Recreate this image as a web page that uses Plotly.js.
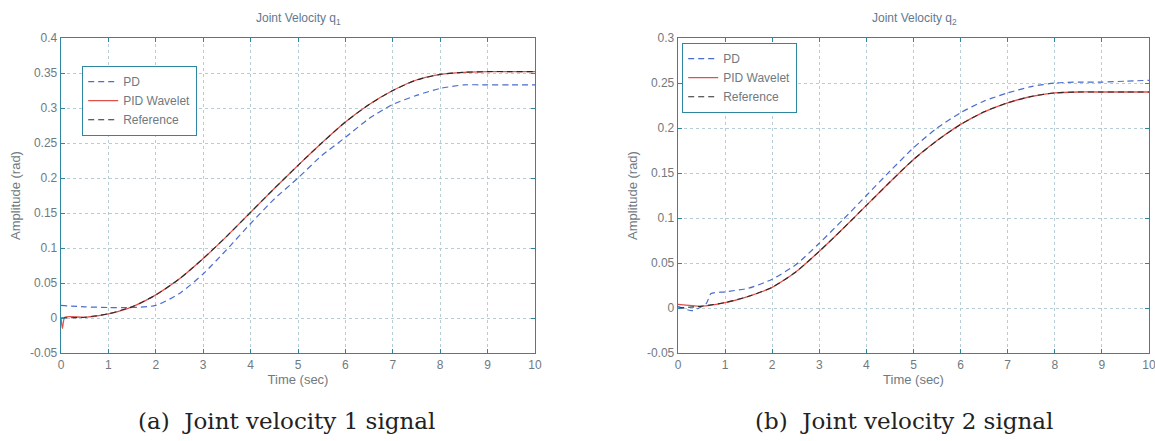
<!DOCTYPE html>
<html>
<head>
<meta charset="utf-8">
<script src="https://cdn.plot.ly/plotly-3.0.1.min.js"></script>
<style>html,body{margin:0;padding:0;background:#fff;}#chart{width:1155px;height:441px;}</style>
</head>
<body>
<div id="chart"></div>
<script>
// ---- Data ----
const time1 = [0, 0.5, 1, 1.5, 2, 2.5, 3, 3.5, 4, 4.5, 5, 5.5, 6, 6.5, 7, 7.5, 8, 8.5, 9, 9.5, 10];
const pd1 = [0.018, 0.016, 0.015, 0.015, 0.018, 0.035, 0.063, 0.098, 0.135, 0.17, 0.2, 0.232, 0.258, 0.285, 0.305, 0.318, 0.328, 0.333, 0.333, 0.333, 0.333];
const time1w = [0, 0.03, 0.08, 0.5, 1, 1.5, 2, 2.5, 3, 3.5, 4, 4.5, 5, 5.5, 6, 6.5, 7, 7.5, 8, 8.5, 9, 9.5, 10];
const pidw1 = [0, -0.015, 0.001, 0.001, 0.006, 0.016, 0.033, 0.056, 0.085, 0.117, 0.151, 0.185, 0.218, 0.25, 0.28, 0.305, 0.325, 0.34, 0.348, 0.351, 0.352, 0.352, 0.352];
const ref1 = [0, 0.001, 0.006, 0.016, 0.033, 0.056, 0.085, 0.117, 0.151, 0.185, 0.218, 0.25, 0.28, 0.305, 0.325, 0.34, 0.348, 0.351, 0.352, 0.352, 0.352];

const time2pd = [0, 0.3, 0.6, 0.7, 1, 1.5, 2, 2.5, 3, 3.5, 4, 4.5, 5, 5.5, 6, 6.5, 7, 7.5, 8, 8.5, 9, 9.5, 10];
const pd2 = [0.002, -0.003, 0.005, 0.016, 0.018, 0.022, 0.032, 0.048, 0.072, 0.098, 0.125, 0.152, 0.178, 0.2, 0.217, 0.23, 0.239, 0.246, 0.25, 0.251, 0.251, 0.252, 0.253];
const time2 = [0, 0.5, 1, 1.5, 2, 2.5, 3, 3.5, 4, 4.5, 5, 5.5, 6, 6.5, 7, 7.5, 8, 8.5, 9, 9.5, 10];
const pidw2 = [0.004, 0.002, 0.006, 0.013, 0.023, 0.04, 0.063, 0.088, 0.114, 0.14, 0.165, 0.186, 0.204, 0.218, 0.228, 0.235, 0.239, 0.24, 0.24, 0.24, 0.24];
const ref2 = [0, 0.002, 0.006, 0.013, 0.023, 0.04, 0.063, 0.088, 0.114, 0.14, 0.165, 0.186, 0.204, 0.218, 0.228, 0.235, 0.239, 0.24, 0.24, 0.24, 0.24];

const seriesNames = ['PD', 'PID Wavelet', 'Reference'];
const xTicks = [0, 1, 2, 3, 4, 5, 6, 7, 8, 9, 10];
const yTicks1 = [-0.05, 0, 0.05, 0.1, 0.15, 0.2, 0.25, 0.3, 0.35, 0.4];
const yTicks2 = [-0.05, 0, 0.05, 0.1, 0.15, 0.2, 0.25, 0.3];
const titles = ['Joint Velocity q<sub>1</sub>', 'Joint Velocity q<sub>2</sub>'];
const captions = ['(a)  Joint velocity 1 signal', '(b)  Joint velocity 2 signal'];

// ---- Styles ----
const cPD = '#4a6ccc', cPID = '#e0504a', cRef = '#2a2a2a';
const axisCol = '#2f86a0', gridCol = '#b7cdd6';
const sans = 'Arial, Liberation Sans, sans-serif';
const tickFont = {family: sans, size: 12, color: '#6f7a80'};
const labFont = {family: sans, size: 13, color: '#6f7a80'};

function tr(x, y, name, color, dash, width, xa, ya, legend) {
  return {x: x, y: y, name: name, type: 'scatter', mode: 'lines',
    line: {color: color, dash: dash, width: width, shape: 'spline', smoothing: 0.6},
    xaxis: xa, yaxis: ya, legend: legend, showlegend: true};
}

const data = [
  tr(time1, pd1, seriesNames[0], cPD, '6px,4px', 1.2, 'x', 'y', 'legend'),
  tr(time1w, pidw1, seriesNames[1], cPID, 'solid', 1.3, 'x', 'y', 'legend'),
  tr(time1, ref1, seriesNames[2], cRef, '6px,4px', 1.1, 'x', 'y', 'legend'),
  tr(time2pd, pd2, seriesNames[0], cPD, '6px,4px', 1.2, 'x2', 'y2', 'legend2'),
  tr(time2, pidw2, seriesNames[1], cPID, 'solid', 1.3, 'x2', 'y2', 'legend2'),
  tr(time2, ref2, seriesNames[2], cRef, '6px,4px', 1.1, 'x2', 'y2', 'legend2')
];

function xax(domain, anchor) {
  return {domain: domain, anchor: anchor, range: [0, 10], tickvals: xTicks, ticktext: xTicks.map(String),
    showgrid: true, gridcolor: gridCol, griddash: 'dot', gridwidth: 1,
    showline: true, linecolor: axisCol, linewidth: 1.3, mirror: 'ticks',
    ticks: 'inside', ticklen: 4, tickcolor: axisCol, tickfont: tickFont, zeroline: false,
    ticklabeloverflow: 'allow',
    title: {text: 'Time (sec)', font: labFont, standoff: 0}};
}
function yax(domain, anchor, range, ticks) {
  return {domain: domain, anchor: anchor, range: range, tickvals: ticks, ticktext: ticks.map(String),
    showgrid: true, gridcolor: gridCol, griddash: 'dot', gridwidth: 1,
    showline: true, linecolor: axisCol, linewidth: 1.3, mirror: 'ticks',
    ticks: 'inside', ticklen: 4, tickcolor: axisCol, tickfont: tickFont, zeroline: false,
    title: {text: 'Amplitude (rad)', font: labFont, standoff: 6}};
}

const yDom = [1 - 353 / 441, 1 - 38 / 441];
const legendStyle = {bgcolor: '#ffffff', bordercolor: axisCol, borderwidth: 1.2,
  font: {family: sans, size: 12, color: '#6f7a80'},
  xanchor: 'left', yanchor: 'top', tracegroupgap: 0};

const layout = {
  width: 1155, height: 441, margin: {l: 0, r: 0, t: 0, b: 0},
  paper_bgcolor: '#ffffff', plot_bgcolor: '#ffffff', showlegend: true,
  xaxis: xax([61 / 1155, 535 / 1155], 'y'),
  yaxis: yax(yDom, 'x', [-0.05, 0.4], yTicks1),
  xaxis2: xax([678 / 1155, 1149 / 1155], 'y2'),
  yaxis2: yax(yDom, 'x2', [-0.05, 0.3], yTicks2),
  legend: Object.assign({x: 82 / 1155, y: 1 - 66 / 441}, legendStyle),
  legend2: Object.assign({x: 682 / 1155, y: 1 - 43 / 441}, legendStyle),
  annotations: [
    {text: titles[0], x: 298 / 1155, y: 1 - 19 / 441, xref: 'paper', yref: 'paper', xanchor: 'center', yanchor: 'middle', showarrow: false,
     font: {family: sans, size: 12, color: '#5f7a90'}},
    {text: titles[1], x: 914 / 1155, y: 1 - 19 / 441, xref: 'paper', yref: 'paper', xanchor: 'center', yanchor: 'middle', showarrow: false,
     font: {family: sans, size: 12, color: '#5f7a90'}},
    {text: captions[0], x: 286 / 1155, y: 1 - 421 / 441, xref: 'paper', yref: 'paper', xanchor: 'center', yanchor: 'middle', showarrow: false,
     font: {family: 'DejaVu Serif, Liberation Serif, serif', size: 23, color: '#222222'}},
    {text: captions[1], x: 904 / 1155, y: 1 - 421 / 441, xref: 'paper', yref: 'paper', xanchor: 'center', yanchor: 'middle', showarrow: false,
     font: {family: 'DejaVu Serif, Liberation Serif, serif', size: 23, color: '#222222'}}
  ]
};

Plotly.newPlot('chart', data, layout, {staticPlot: true, displayModeBar: false});
</script>
</body>
</html>
